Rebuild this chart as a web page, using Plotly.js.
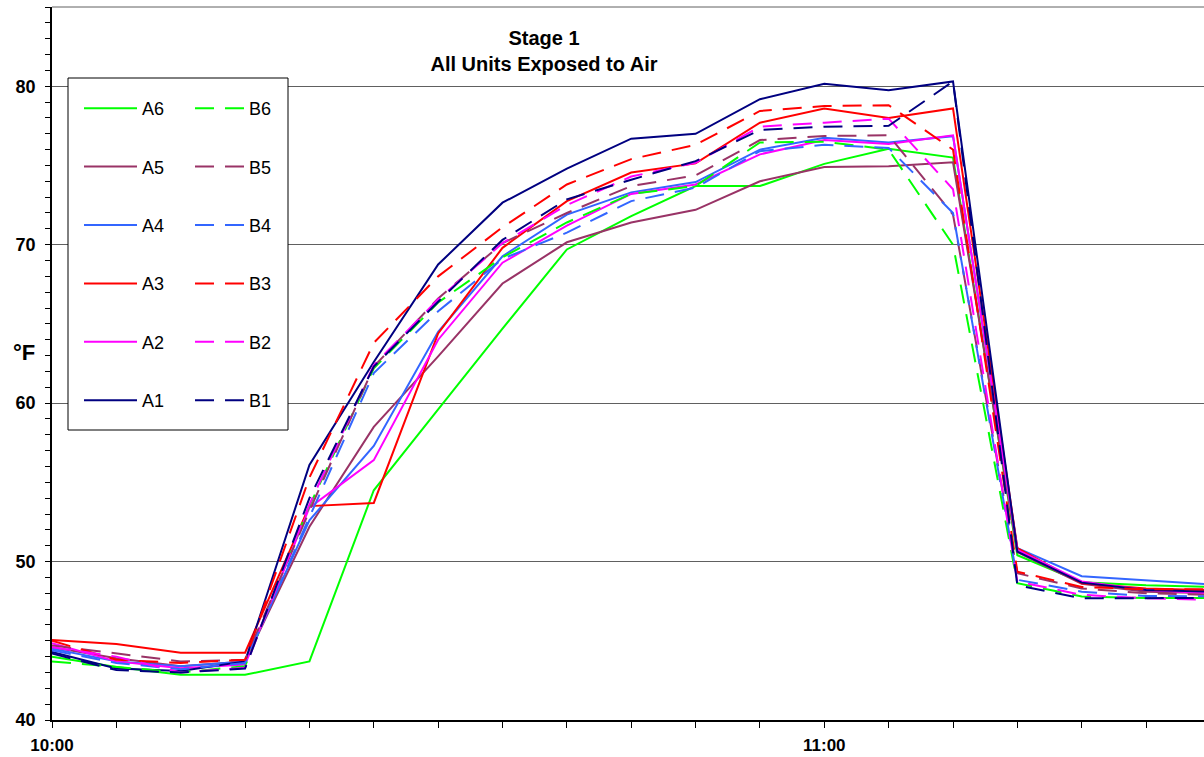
<!DOCTYPE html>
<html>
<head>
<meta charset="utf-8">
<script src="https://cdn.plot.ly/plotly-3.0.1.min.js"></script>
<style>html,body{margin:0;padding:0;background:#fff;}#chart{width:1204px;height:757px;}</style>
</head>
<body>
<div id="chart"></div>
<script>
// Minutes after 10:00 (one reading every 5 minutes)
const minutes = [0,5,10,15,20,25,30,35,40,45,50,55,60,65,70,75,80,85,90];
const tickMinutes = [0,5,10,15,20,25,30,35,40,45,50,55,60,65,70,75,80,85];
const tickLabels = ['10:00','','','','','','','','','','','','11:00','','','','',''];

const A6 = [44.0,43.35,42.85,42.85,43.7,54.5,59.6,64.7,69.7,71.8,73.7,73.7,75.1,76.05,75.5,50.4,48.7,48.5,48.4];
const A5 = [44.6,43.9,43.4,43.7,52.2,58.5,62.95,67.55,70.15,71.4,72.2,74.0,74.9,74.95,75.2,50.6,48.6,48.1,48.0];
const A4 = [44.5,43.7,43.4,43.7,52.6,57.3,64.5,69.27,71.9,73.3,73.95,76.0,76.75,76.45,76.85,50.85,49.07,48.8,48.55];
const A3 = [45.05,44.8,44.25,44.25,53.5,53.7,64.4,69.8,72.75,74.55,75.13,77.7,78.6,78.0,78.6,50.85,48.63,48.3,48.2];
const A2 = [44.85,43.7,43.26,43.5,53.4,56.4,64.0,68.86,71.2,73.2,73.8,75.7,76.6,76.35,76.9,50.74,48.74,48.2,48.0];
const A1 = [44.3,43.25,43.1,43.7,56.1,62.6,68.75,72.65,74.8,76.69,77.0,79.18,80.16,79.75,80.3,50.63,48.67,48.2,48.1];

const B6 = [43.7,43.35,43.0,43.4,53.5,62.2,66.35,69.2,71.4,73.2,73.7,76.45,76.5,76.0,70.0,48.63,47.8,47.7,47.7];
const B5 = [44.7,44.2,43.7,43.8,53.2,62.3,66.6,70.1,72.0,73.7,74.37,76.6,76.86,76.9,71.9,49.26,48.3,48.0,47.9];
const B4 = [44.4,43.6,43.2,43.6,52.8,61.9,65.8,69.1,70.76,72.75,73.6,75.9,76.3,76.1,72.0,48.85,48.1,47.83,47.8];
const B3 = [45.0,43.8,43.6,43.8,55.3,63.8,68.0,71.1,73.8,75.4,76.3,78.44,78.75,78.8,76.0,49.36,48.4,48.25,48.25];
const B2 = [44.6,44.0,43.0,43.3,53.6,62.4,66.55,70.1,72.5,74.3,75.17,77.45,77.7,77.95,73.5,48.74,47.9,47.68,47.58];
const B1 = [44.2,43.15,43.0,43.25,54.0,62.3,66.4,70.3,72.86,74.1,75.27,77.24,77.45,77.5,80.3,48.5,47.68,47.7,47.7];

const seriesA = [['A6',A6,'#00FF00'],['A5',A5,'#993366'],['A4',A4,'#3366FF'],['A3',A3,'#FF0000'],['A2',A2,'#FF00FF'],['A1',A1,'#000080']];
const seriesB = [['B6',B6,'#00FF00'],['B5',B5,'#993366'],['B4',B4,'#3366FF'],['B3',B3,'#FF0000'],['B2',B2,'#FF00FF'],['B1',B1,'#000080']];

const FONT = 'Liberation Sans, Arial, sans-serif';
const traces = [];
seriesA.forEach(([n,v,c]) => traces.push({
  x: minutes, y: v, name: n, type: 'scatter', mode: 'lines',
  line: {color: c, width: 2}, legend: 'legend', legendgroup: n
}));
seriesB.forEach(([n,v,c]) => traces.push({
  x: minutes, y: v, name: n, type: 'scatter', mode: 'lines',
  line: {color: c, width: 2, dash: '19px,11px'}, legend: 'legend2', legendgroup: n
}));

const W = 1152, H = 713;
const px = v => (v - 52) / W;
const py = v => (720 - v) / H;

const legendCommon = {
  bgcolor: 'rgba(0,0,0,0)', borderwidth: 0, tracegroupgap: 32,
  font: {family: FONT, size: 18, color: '#000'},
  xanchor: 'left', yanchor: 'top', y: py(90)
};

const layout = {
  width: 1204, height: 757,
  margin: {l: 52, r: 0, t: 7, b: 37},
  paper_bgcolor: '#fff', plot_bgcolor: '#fff',
  font: {family: FONT, color: '#000'},
  title: {
    text: '<b>Stage 1<br>All Units Exposed to Air</b>',
    font: {family: FONT, size: 20, color: '#000'},
    xref: 'container', x: 544/1204, xanchor: 'center',
    yref: 'container', y: 1 - 45/757, yanchor: 'middle'
  },
  xaxis: {
    range: [0, 89.5], tickmode: 'array', tickvals: tickMinutes, ticktext: tickLabels,
    showgrid: false, zeroline: false, showline: true, linecolor: '#000', linewidth: 1.5,
    ticks: 'outside', ticklen: 6, tickcolor: '#000', tickwidth: 1,
    tickfont: {family: FONT, size: 17, color: '#000', weight: 'bold'}, ticklabelstandoff: 3
  },
  yaxis: {
    range: [40, 85], tick0: 40, dtick: 10,
    showgrid: true, gridcolor: '#606060', gridwidth: 1, zeroline: false,
    showline: true, linecolor: '#000', linewidth: 1.5,
    ticks: 'outside', ticklen: 5, tickcolor: '#000', tickwidth: 1,
    minor: {dtick: 1, ticks: 'outside', ticklen: 5, tickcolor: '#000', tickwidth: 1, showgrid: false},
    tickfont: {family: FONT, size: 18, color: '#000', weight: 'bold'}, ticklabelstandoff: 6
  },
  shapes: [
    {type: 'line', xref: 'paper', yref: 'paper', x0: 0, x1: 1, y0: 1, y1: 1,
     line: {color: '#606060', width: 1}},
    {type: 'rect', xref: 'paper', yref: 'paper', layer: 'above',
     x0: px(68), x1: px(288), y0: py(430), y1: py(78),
     fillcolor: '#fff', line: {color: '#000', width: 1}}
  ],
  annotations: [
    {text: '<b>°F</b>', xref: 'paper', yref: 'paper', x: px(24), y: py(352),
     xanchor: 'center', yanchor: 'middle', showarrow: false,
     font: {family: FONT, size: 22, color: '#000'}}
  ],
  legend: Object.assign({}, legendCommon, {x: px(79), itemwidth: 53}),
  legend2: Object.assign({}, legendCommon, {x: px(190), itemwidth: 49}),
  showlegend: true
};

Plotly.newPlot('chart', traces, layout, {displayModeBar: false, responsive: false});
</script>
</body>
</html>
